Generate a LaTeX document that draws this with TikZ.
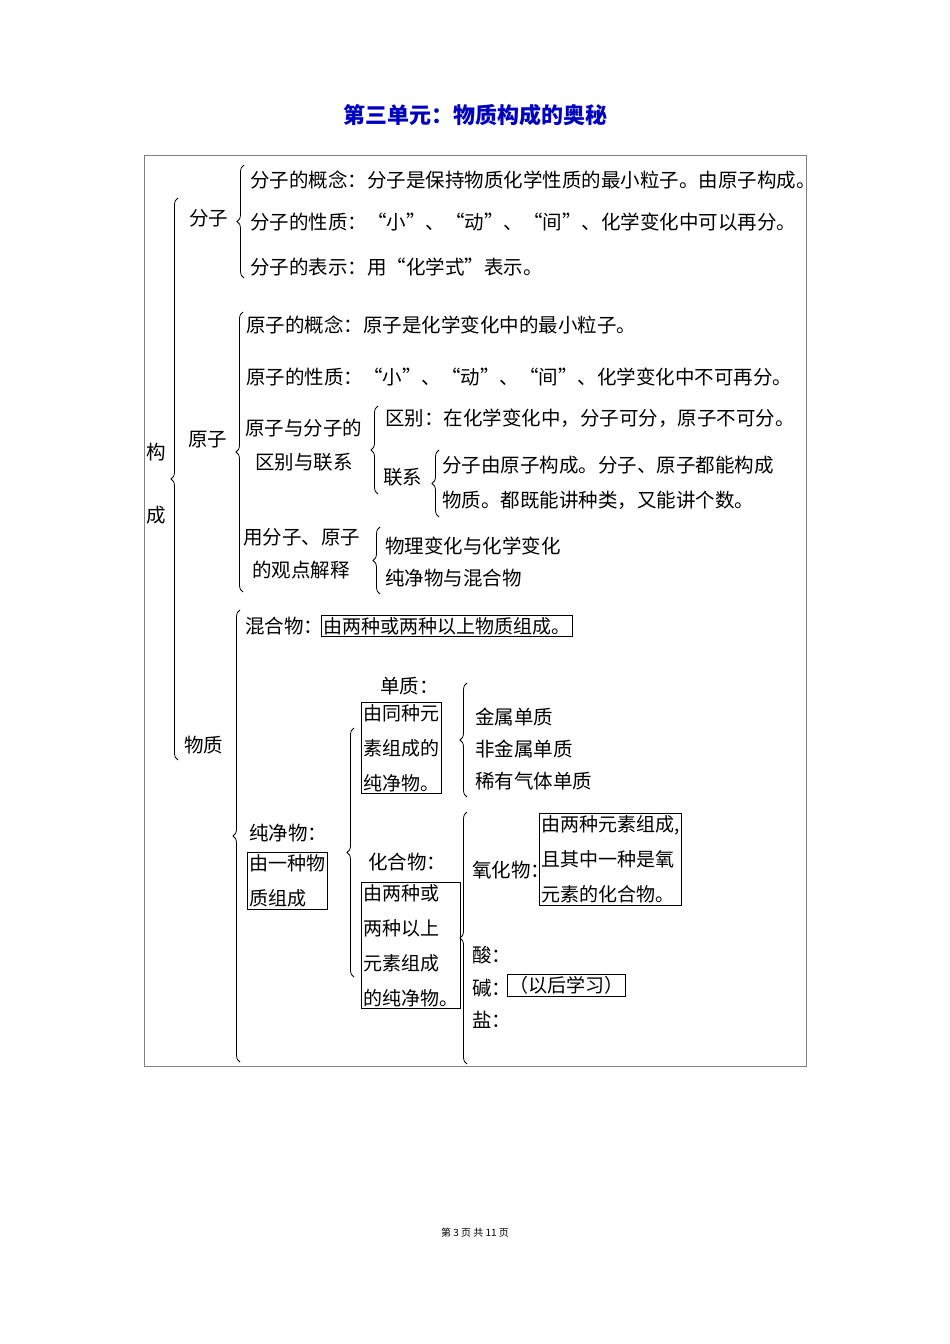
\documentclass[tikz,border=0pt]{standalone}
\usepackage{fontspec}
\setmainfont{Noto Sans CJK SC}
\usetikzlibrary{decorations.pathreplacing}
\begin{document}
\begin{tikzpicture}[x=1pt,y=-1pt,
  t/.style={anchor=west,inner sep=0pt,font=\fontsize{19.5}{22}\selectfont},
  bx/.style={draw,thick,anchor=north west,inner sep=2pt,align=left,font=\fontsize{19}{35}\selectfont},
  br/.style={thick,decorate,decoration={brace,amplitude=7pt}}]
\useasboundingbox (0,0) rectangle (950,1344);
\draw[gray] (144,155) rectangle (806,1066);
\node[text=blue!75!black,font=\fontsize{22}{26}\selectfont\bfseries] (title) at (475,115) {第三单元：物质构成的奥秘};
\node[font=\fontsize{10}{12}\selectfont] (foot) at (475,1233) {第 3 页 共 11 页};
% root
\node[t] (g1) at (146,452) {构};
\node[t] (g2) at (146,515) {成};
\draw[br] (178,760) -- (178,198);
% 分子
\node[t] (fz) at (189,218) {分子};
\draw[br] (244,278) -- (244,165);
\node[t] (f1) at (250,180) {分子的概念：分子是保持物质化学性质的最小粒子。由原子构成。};
\node[t] (f2) at (250,222) {分子的性质：“小”、“动”、“间”、化学变化中可以再分。};
\node[t] (f3) at (250,267) {分子的表示：用“化学式”表示。};
% 原子
\node[t] (yz) at (188,440) {原子};
\draw[br] (243,592) -- (243,312);
\node[t] (y1) at (246,325) {原子的概念：原子是化学变化中的最小粒子。};
\node[t] (y2) at (246,377) {原子的性质：“小”、“动”、“间”、化学变化中不可再分。};
\node[t] (y3) at (245,428) {原子与分子的};
\node[t] (y3b) at (255,462) {区别与联系};
\draw[br] (378,494) -- (378,406);
\node[t] (qb) at (385,418) {区别：在化学变化中，分子可分，原子不可分。};
\node[t] (lx) at (383,477) {联系};
\draw[br] (439,517) -- (439,450);
\node[t] (lx1) at (442,465) {分子由原子构成。分子、原子都能构成};
\node[t] (lx2) at (442,500) {物质。都既能讲种类，又能讲个数。};
\node[t] (y4) at (243,537) {用分子、原子};
\node[t] (y4b) at (252,570) {的观点解释};
\draw[br] (380,594) -- (380,527);
\node[t] (j1) at (385,546) {物理变化与化学变化};
\node[t] (j2) at (385,578) {纯净物与混合物};
% 物质
\node[t] (wz) at (184,745) {物质};
\draw[br] (240,1062) -- (240,610);
\node[t] (hh) at (245,626) {混合物：};
\node[bx,anchor=west] (hhb) at (321,626) {由两种或两种以上物质组成。};
\node[t] (cj) at (249,833) {纯净物：};
\node[bx] (cjb) at (247,852) {由一种物\\质组成};
\draw[br] (354,977) -- (354,728);
\node[t] (dz) at (380,686) {单质：};
\node[bx] (dzb) at (361,702) {由同种元\\素组成的\\纯净物。};
\draw[br] (467,797) -- (467,683);
\node[t] (d1) at (475,717) {金属单质};
\node[t] (d2) at (475,749) {非金属单质};
\node[t] (d3) at (475,781) {稀有气体单质};
\node[t] (hw) at (368,862) {化合物：};
\node[bx] (hwb) at (361,882) {由两种或\\两种以上\\元素组成\\的纯净物。};
\draw[br] (467,1064) -- (467,812);
\node[t] (yh) at (472,870) {氧化物：};
\node[bx] (yhb) at (539,813) {由两种元素组成,\\且其中一种是氧\\元素的化合物。};
\node[t] (s1) at (472,955) {酸：};
\node[t] (s2) at (472,988) {碱：};
\node[t] (s3) at (472,1020) {盐：};
\node[bx,anchor=west] (yhx) at (507,985) {（以后学习）};
\end{tikzpicture}
\end{document}
